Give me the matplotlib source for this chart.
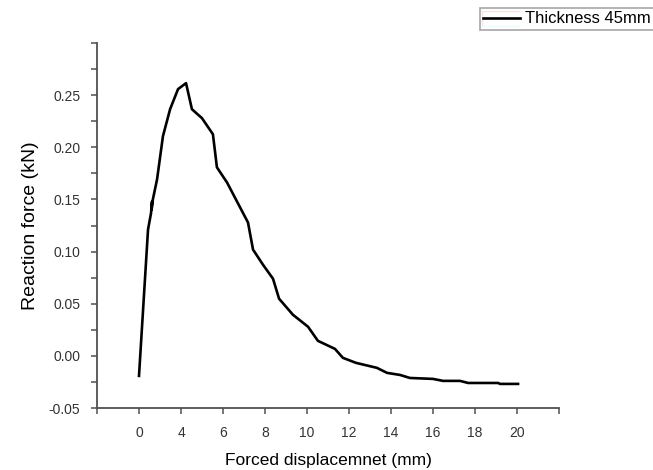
import matplotlib
matplotlib.use("Agg")
import matplotlib.pyplot as plt
from matplotlib.lines import Line2D

plt.rcParams['font.family'] = ['Liberation Sans', 'DejaVu Sans']

# x is given in tick-position units (one tick every 2 units); the original
# chart labels its ticks 0, 4, 6, ... 20 (the "2" is missing)
disp = [0.0, 0.43, 0.57, 0.62, 0.60, 0.66, 0.86, 1.14, 1.48, 1.86, 2.24,
        2.52, 3.00, 3.52, 3.71, 4.19, 5.19, 5.43, 5.90, 6.38, 6.67, 7.33,
        8.05, 8.52, 9.33, 9.71, 10.33, 11.33, 11.81, 12.43, 12.90, 14.00,
        14.48, 15.29, 15.67, 17.10, 17.19, 18.05]
force = [-0.0192, 0.1212, 0.1365, 0.1480, 0.1400, 0.1500, 0.1692, 0.2106,
         0.2365, 0.2558, 0.2615, 0.2365, 0.2279, 0.2125, 0.1808, 0.1663,
         0.1279, 0.1019, 0.0875, 0.0740, 0.0548, 0.0394, 0.0279, 0.0144,
         0.0067, -0.0019, -0.0067, -0.0115, -0.0163, -0.0183, -0.0212,
         -0.0221, -0.0240, -0.0240, -0.0260, -0.0260, -0.0269, -0.0269]

x_tick_pos = [-2, 0, 2, 4, 6, 8, 10, 12, 14, 16, 18, 20]
x_tick_labels = ['', '0', '4', '6', '8', '10', '12', '14', '16', '18', '20', '']
y_ticks = [-0.05, 0.0, 0.05, 0.10, 0.15, 0.20, 0.25]
y_tick_labels = ['-0.05', '0.00', '0.05', '0.10', '0.15', '0.20', '0.25']
y_minor = [-0.025, 0.025, 0.075, 0.125, 0.175, 0.225, 0.275, 0.30]

fig = plt.figure(figsize=(6.53, 4.70), dpi=100)
ax = fig.add_axes([97 / 653, 1 - 408 / 470, (559 - 97) / 653, (408 - 43) / 470])

ax.plot(disp, force, color='black', lw=1.9, solid_joinstyle='round',
        label='Thickness 45mm')

ax.set_xlim(-2, 20)
ax.set_ylim(-0.05, 0.30)
ax.set_xticks(x_tick_pos)
ax.set_xticklabels(x_tick_labels)
ax.set_yticks(y_ticks)
ax.set_yticklabels(y_tick_labels)
ax.set_yticks(y_minor, minor=True)

for s in ['top', 'right']:
    ax.spines[s].set_visible(False)
for s in ['left', 'bottom']:
    ax.spines[s].set_color('#505050')
    ax.spines[s].set_linewidth(1.3)

ax.tick_params(which='both', direction='out', length=4, width=1.1,
               color='#505050', labelsize=10, labelcolor='#333333')
ax.tick_params(axis='y', pad=8)
ax.tick_params(axis='x', pad=9)

ax.set_xlabel('Forced displacemnet (mm)', fontsize=12.5, labelpad=9)
ax.set_ylabel('Reaction force (kN)', fontsize=14, labelpad=7)

leg = fig.legend(loc='upper left', bbox_to_anchor=(480 / 653, 1 - 8 / 470),
                 fontsize=12, frameon=True, fancybox=False, borderaxespad=0,
                 borderpad=0.2, handlelength=2.2, handletextpad=0.3)
leg.get_frame().set_edgecolor('#909090')
leg.get_frame().set_linewidth(1.2)

# small coloured box drawn around the legend sample in the original
fig.add_artist(Line2D([482 / 653, 519 / 653], [1 - 11 / 470, 1 - 11 / 470],
                      color='#d08080', lw=1))
fig.add_artist(Line2D([482 / 653, 482 / 653], [1 - 11 / 470, 1 - 26 / 470],
                      color='#d08080', lw=1))
fig.add_artist(Line2D([482 / 653, 519 / 653], [1 - 26 / 470, 1 - 26 / 470],
                      color='#a0e8f0', lw=1))

fig.savefig('out.png', dpi=100)
